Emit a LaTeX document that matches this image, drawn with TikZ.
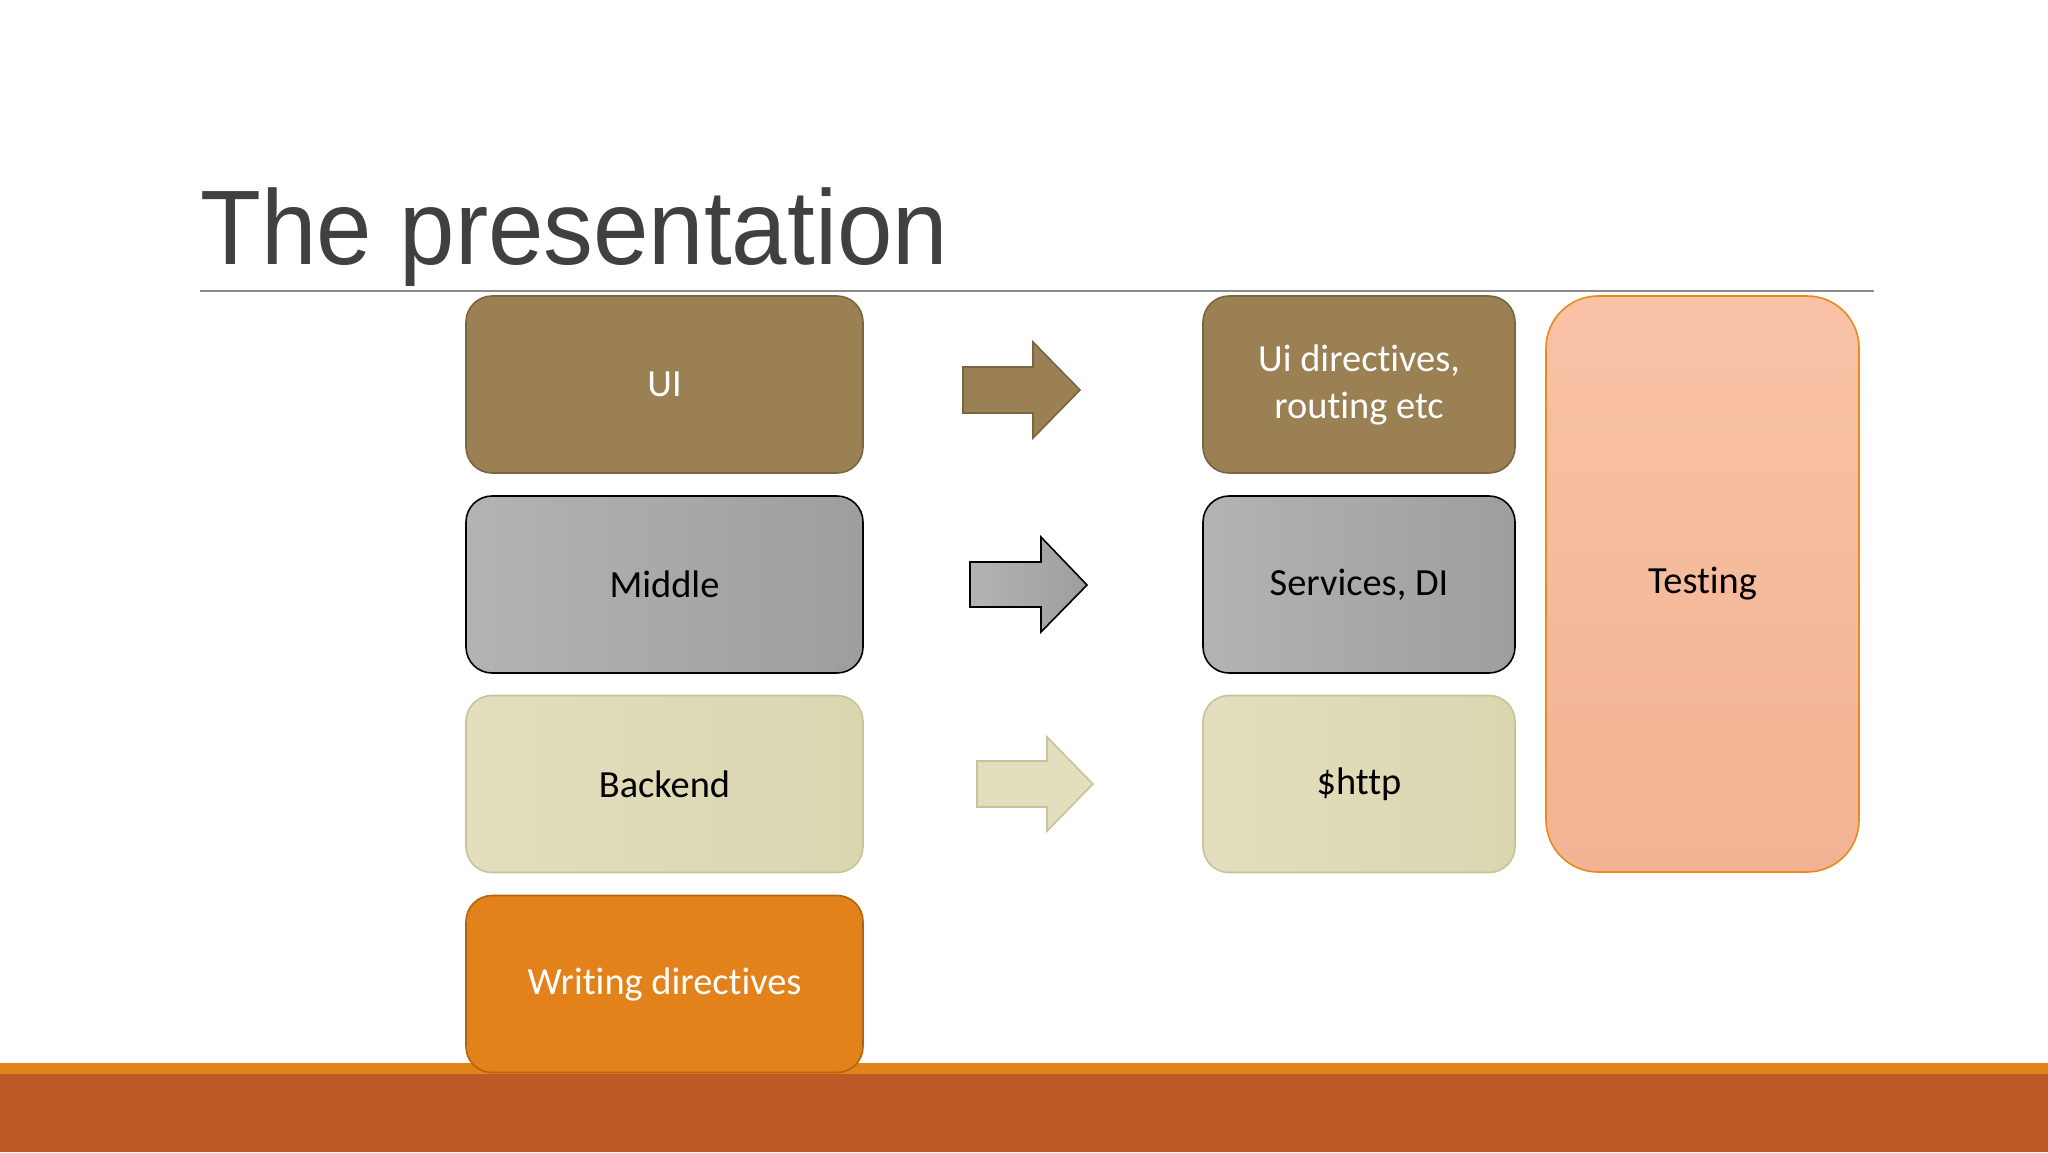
\documentclass[tikz,border=0pt]{standalone}
\usepackage{fontspec}
\setmainfont{Carlito}[Ligatures=NoCommon]
\newfontfamily\titlefont{Liberation Sans}
\usepackage{tikz}
\usetikzlibrary{positioning}

\definecolor{titlegray}{HTML}{404040}
\definecolor{rulegray}{HTML}{8A8A8A}
\definecolor{uibrown}{HTML}{9A8052}
\definecolor{uiedge}{HTML}{7A6540}
\definecolor{midlight}{HTML}{B3B3B3}
\definecolor{middark}{HTML}{9E9E9E}
\definecolor{backkhaki}{HTML}{E3DFBE}
\definecolor{backdark}{HTML}{DAD6B0}
\definecolor{backedge}{HTML}{C8C49A}
\definecolor{writeorange}{HTML}{E3821A}
\definecolor{writeedge}{HTML}{B0650F}
\definecolor{testlight}{HTML}{F9C2A6}
\definecolor{testdark}{HTML}{F1B393}
\definecolor{testedge}{HTML}{E88A1E}
\definecolor{barorange}{HTML}{E4821A}
\definecolor{barrust}{HTML}{BE5A28}

\tikzset{
  box/.style={rounded corners=13pt, minimum width=198.5pt, minimum height=88.5pt,
    align=center, line width=0.8pt, font=\fontsize{19.2}{23.5}\selectfont},
  narrow/.style={box, minimum width=156pt},
  uibox/.style={fill=uibrown, draw=uiedge, text=white},
  midbox/.style={left color=midlight, right color=middark, draw=black},
  backbox/.style={left color=backkhaki, right color=backdark, draw=backedge, text=black},
  writebox/.style={fill=writeorange, draw=writeedge, text=white},
  testbox/.style={box, rounded corners=26pt, minimum width=156.5pt, minimum height=288pt,
    top color=testlight, bottom color=testdark, draw=testedge},
}

\begin{document}
\begin{tikzpicture}[x=0.5pt,y=-0.5pt]
\useasboundingbox (0,0) rectangle (2048,1152);
% title and rule
\node[anchor=base west, inner sep=0, text=titlegray, xscale=0.94,
  font=\titlefont\fontsize{53}{60}\selectfont] (title) at (200,264) {The presentation};
\draw[rulegray, line width=1pt] (200,291) -- (1874,291);
% bottom bar
\fill[barorange] (0,1063) rectangle (2048,1074);
\fill[barrust] (0,1074) rectangle (2048,1152);
% left column
\node[box, uibox] (ui) at (664.5,384.5) {UI};
\node[box, midbox] (middle) at (664.5,584.5) {Middle};
\node[box, backbox] (backend) at (664.5,784) {Backend};
\node[box, writebox] (writing) at (664.5,984) {Writing directives};
% right column
\node[narrow, uibox] (uidir) at (1359,384.5) {Ui directives,\\routing etc};
\node[narrow, midbox] (services) at (1359,584.5) {Services, DI};
\node[narrow, backbox] (http) at (1359,784) {\$http};
\node[testbox] (testing) at (1702.5,584) {Testing};
% block arrows
\filldraw[fill=uibrown, draw=uiedge, line width=0.8pt]
  (963,367) -- (1033,367) -- (1033,342) -- (1080,390) -- (1033,438) -- (1033,413) -- (963,413) -- cycle;
\filldraw[left color=midlight, right color=middark, draw=black, line width=0.8pt]
  (970,562) -- (1041,562) -- (1041,537) -- (1087,585) -- (1041,632) -- (1041,607) -- (970,607) -- cycle;
\filldraw[fill=backkhaki, draw=backedge, line width=0.8pt]
  (977,761) -- (1047,761) -- (1047,737) -- (1093,784) -- (1047,831) -- (1047,807) -- (977,807) -- cycle;
\end{tikzpicture}
\end{document}
